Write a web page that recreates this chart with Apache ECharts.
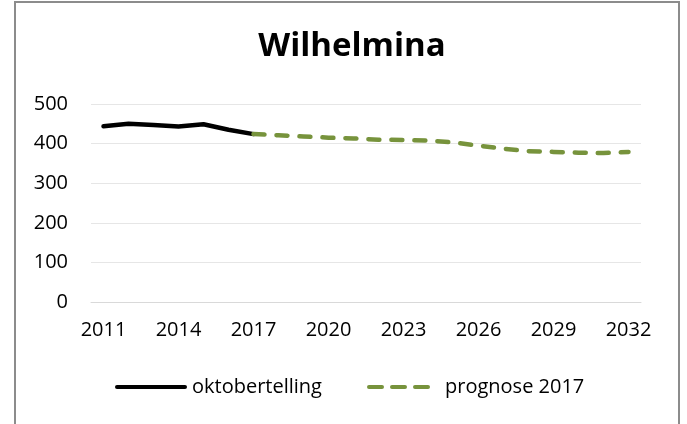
<!DOCTYPE html>
<html>
<head>
<meta charset="utf-8">
<style>
  html, body { margin: 0; padding: 0; background: #fff; }
  #chart { width: 687px; height: 424px; }
</style>
<script src="https://cdn.jsdelivr.net/npm/echarts@6/dist/echarts.min.js"></script>
</head>
<body>
<div id="chart"></div>
<script>
// jaren op de x-as
const years = ['2011', '2012', '2013', '2014', '2015', '2016', '2017', '2018', '2019', '2020', '2021',
  '2022', '2023', '2024', '2025', '2026', '2027', '2028', '2029', '2030', '2031', '2032']
// oktobertelling 2011-2017
const telling = [444, 450, 447, 443, 449, 435, 424]
// prognose 2017-2032
const prognose = [424, 421, 418, 415, 413, 410, 409, 408, 403, 395, 387, 381, 379, 377, 376, 379]

const tellingData = years.map((y, i) => (i < telling.length ? telling[i] : null))
const prognoseStart = years.indexOf('2017')
const prognoseData = years.map((y, i) => (i >= prognoseStart ? prognose[i - prognoseStart] : null))

const font = 'Open Sans'
// legenda-iconen: doorgetrokken lijn en drie streepjes
const solidIcon = 'path://M2,0h68a2,2 0 0 1 0,4h-68a2,2 0 0 1 0,-4z'
const dashIcon = 'path://M2,0h13a2,2 0 0 1 0,4h-13a2,2 0 0 1 0,-4z' +
  'M25,0h13a2,2 0 0 1 0,4h-13a2,2 0 0 1 0,-4z' +
  'M48,0h13a2,2 0 0 1 0,4h-13a2,2 0 0 1 0,-4z'

const myChart = echarts.init(document.getElementById('chart'))
myChart.setOption({
  animation: false,
  graphic: [{
    type: 'rect',
    shape: { x: 15, y: 2, width: 664, height: 430 },
    style: { fill: 'none', stroke: '#8c8c8c', lineWidth: 2 },
    silent: true
  }],
  title: {
    text: 'Wilhelmina',
    left: 347,
    textAlign: 'center',
    top: 25,
    textStyle: { fontFamily: font, fontSize: 33, fontWeight: 'bold', color: '#000' }
  },
  grid: { left: 91, right: 46, top: 104, bottom: 122 },
  xAxis: {
    type: 'category',
    data: years,
    boundaryGap: true,
    axisLine: { lineStyle: { color: '#d9d9d9', width: 1 } },
    axisTick: { show: false },
    axisLabel: { interval: 2, margin: 18, color: '#000', fontFamily: font, fontSize: 20 }
  },
  yAxis: {
    type: 'value',
    min: 0,
    max: 500,
    interval: 100,
    axisLine: { show: false },
    axisTick: { show: false },
    axisLabel: { margin: 23, color: '#000', fontFamily: font, fontSize: 20 },
    splitLine: { lineStyle: { color: '#e6e6e6', width: 1 } }
  },
  legend: [
    {
      left: 115,
      top: 377,
      padding: 0,
      itemWidth: 72,
      itemHeight: 5,
      textStyle: { fontFamily: font, fontSize: 20, color: '#000' },
      data: [{ name: 'oktobertelling', icon: solidIcon }]
    },
    {
      left: 367,
      top: 377,
      padding: 0,
      itemWidth: 63,
      itemHeight: 5,
      textStyle: { fontFamily: font, fontSize: 20, color: '#000', padding: [0, 0, 0, 10] },
      data: [{ name: 'prognose 2017', icon: dashIcon }]
    }
  ],
  series: [
    {
      name: 'oktobertelling',
      type: 'line',
      data: tellingData,
      symbol: 'none',
      lineStyle: { color: '#000', width: 4.5, cap: 'round', join: 'round' },
      itemStyle: { color: '#000' }
    },
    {
      name: 'prognose 2017',
      type: 'line',
      data: prognoseData,
      symbol: 'none',
      lineStyle: { color: '#77933c', width: 4.5, type: [11, 12], cap: 'round', join: 'round' },
      itemStyle: { color: '#77933c' }
    }
  ]
})
</script>
</body>
</html>
